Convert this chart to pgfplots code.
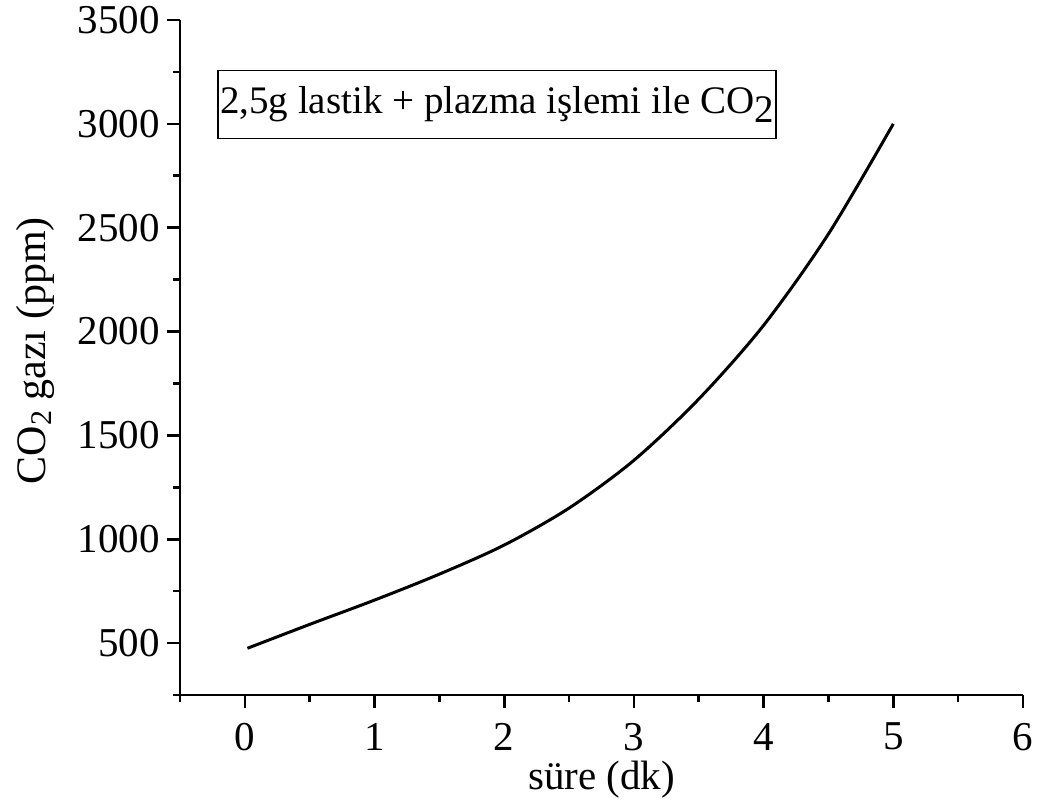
\documentclass[border=0pt]{standalone}
\usepackage{pgfplots}
\pgfplotsset{compat=1.18}
\usepackage{fontspec}
\setmainfont{Liberation Serif}
\begin{document}
\begin{tikzpicture}
\begin{axis}[
  at={(0,0)}, anchor=south west,
  scale only axis,
  width=421.5pt, height=337.5pt,
  xmin=-0.5, xmax=6, ymin=250, ymax=3500,
  axis x line*=bottom, axis y line*=left,
  axis line style={line width=1.3pt},
  every tick/.style={line width=1.3pt, black},
  tick align=outside,
  major tick length=6.5pt, minor tick length=3.5pt,
  xtick={0,1,2,3,4,5,6}, minor xtick={-0.5,0.5,1.5,2.5,3.5,4.5,5.5},
  ytick={500,1000,1500,2000,2500,3000,3500},
  minor ytick={250,750,1250,1750,2250,2750,3250},
  /pgf/number format/assume math mode=true,
  /pgf/number format/1000 sep={},
  ticklabel style={font=\fontsize{20.5}{22}\selectfont},
  xticklabel style={yshift=-4pt},
  xlabel={süre (dk)},
  ylabel={CO\raisebox{-3pt}{\fontsize{15}{16}\selectfont 2} gazı (ppm)},
  every axis x label/.style={at={(axis description cs:0.5,-0.125)}, anchor=center, font=\fontsize{20.5}{22}\selectfont},
  every axis y label/.style={at={(axis description cs:-0.172,0.51)}, anchor=center, rotate=90, font=\fontsize{21}{22}\selectfont},
  clip=false,
]
\addplot[black, line width=1.5pt, smooth, tension=0.5] coordinates {
  (0.02,475) (0.5,590) (1.0,707) (1.5,832) (2.0,972) (2.5,1150)
  (3.0,1380) (3.5,1675) (4.0,2030) (4.5,2470) (5.0,3000)
};
\node[draw=black, line width=0.6pt, minimum width=279pt, minimum height=34pt, inner sep=0pt,
  font=\fontsize{19.5}{21}\selectfont] at (axis cs:1.944,3095)
  {2,5g lastik + plazma işlemi ile CO\raisebox{-4.5pt}{2}};
\end{axis}
\pgfresetboundingbox
\useasboundingbox (-90pt,-52.5pt) rectangle (432pt,347.5pt);
\end{tikzpicture}
\end{document}
